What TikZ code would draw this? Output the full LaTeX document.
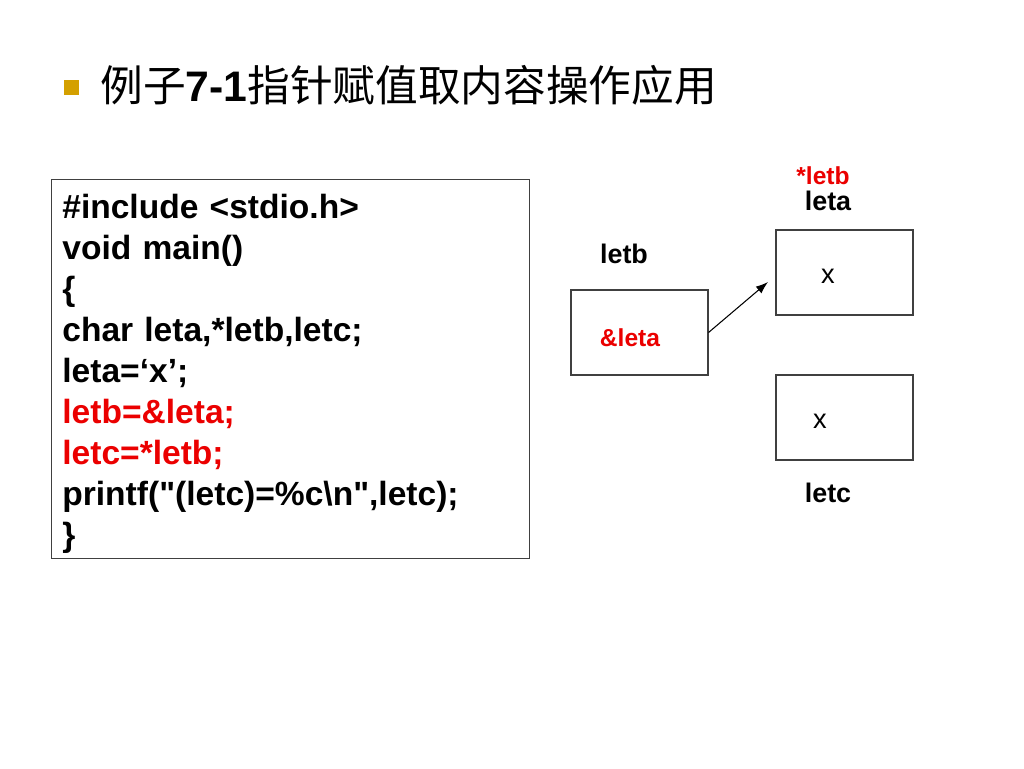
\documentclass[tikz,border=0pt]{standalone}
\usepackage{fontspec}
\setmainfont{Liberation Sans}
\newfontfamily\cjk{Noto Sans CJK SC}
\usetikzlibrary{positioning, arrows.meta}
\usepackage{xcolor}
\definecolor{bulletgold}{RGB}{212,160,0}
\definecolor{codered}{RGB}{235,0,0}

\begin{document}
\begin{tikzpicture}[
    x=0.02cm, y=-0.02cm,
    codebox/.style={rectangle, draw=black!75, line width=0.6pt, anchor=north west, minimum width=9.56cm, minimum height=7.58cm},
    codetext/.style={anchor=north west, inner sep=0pt, text width=9.12cm, align=left, font=\fontsize{19.1}{23.3}\selectfont\bfseries},
    cell/.style={rectangle, draw=black!75, line width=0.6pt, minimum width=2.74cm, minimum height=1.7cm},
    varname/.style={font=\fontsize{15.3}{18}\selectfont\bfseries},
    redlabel/.style={text=codered, font=\fontsize{14}{16}\selectfont\bfseries},
    value/.style={font=\fontsize{15.5}{18}\selectfont}
]
    \useasboundingbox[fill=white] (0,0) rectangle (1024,768);

    % Title
    \fill[bulletgold] (64,80) rectangle (79,95);
    \node[anchor=west, inner sep=0pt, font=\fontsize{24.3}{28}\selectfont] (title) at (100,85) {{\cjk 例子}\textbf{7-1}{\cjk 指针赋值取内容操作应用}};

    % Program
    \node[codebox] (codebox) at (51,179) {};
    \node[codetext] (code) at ([xshift=0.22cm, yshift=-0.3cm]codebox.north west) {%
        \#include <stdio.h>\\
        void main()\\
        \{\\
        char leta,*letb,letc;\\
        leta=‘x’;\\
        \textcolor{codered}{letb=\&leta;}\\
        \textcolor{codered}{letc=*letb;}\\
        printf(\textquotedbl(letc)=\%c\textbackslash n\textquotedbl,letc);\\
        \}};

    % Memory cells
    \node[cell] (letbbox) at (639.5,332.5) {};
    \node[redlabel] (addr) at (630,338) {\&leta};
    \node[varname] (letbname) at (624,254) {letb};

    \node[cell] (letabox) at (844.5,272.5) {};
    \node[value] (xa) at (828,276) {x};
    \node[varname] (letaname) at (828,201) {leta};
    \node[redlabel] (deref) at (823,176) {*letb};

    \node[cell] (letcbox) at (844.5,417.5) {};
    \node[value] (xc) at (820,421) {x};
    \node[varname] (letcname) at (828,493) {letc};

    % Pointer
    \coordinate (tip) at (768,282);
    \draw[-{Latex[length=7pt, width=5pt]}, line width=0.6pt] (letbbox.east) -- (tip);

\end{tikzpicture}
\end{document}
